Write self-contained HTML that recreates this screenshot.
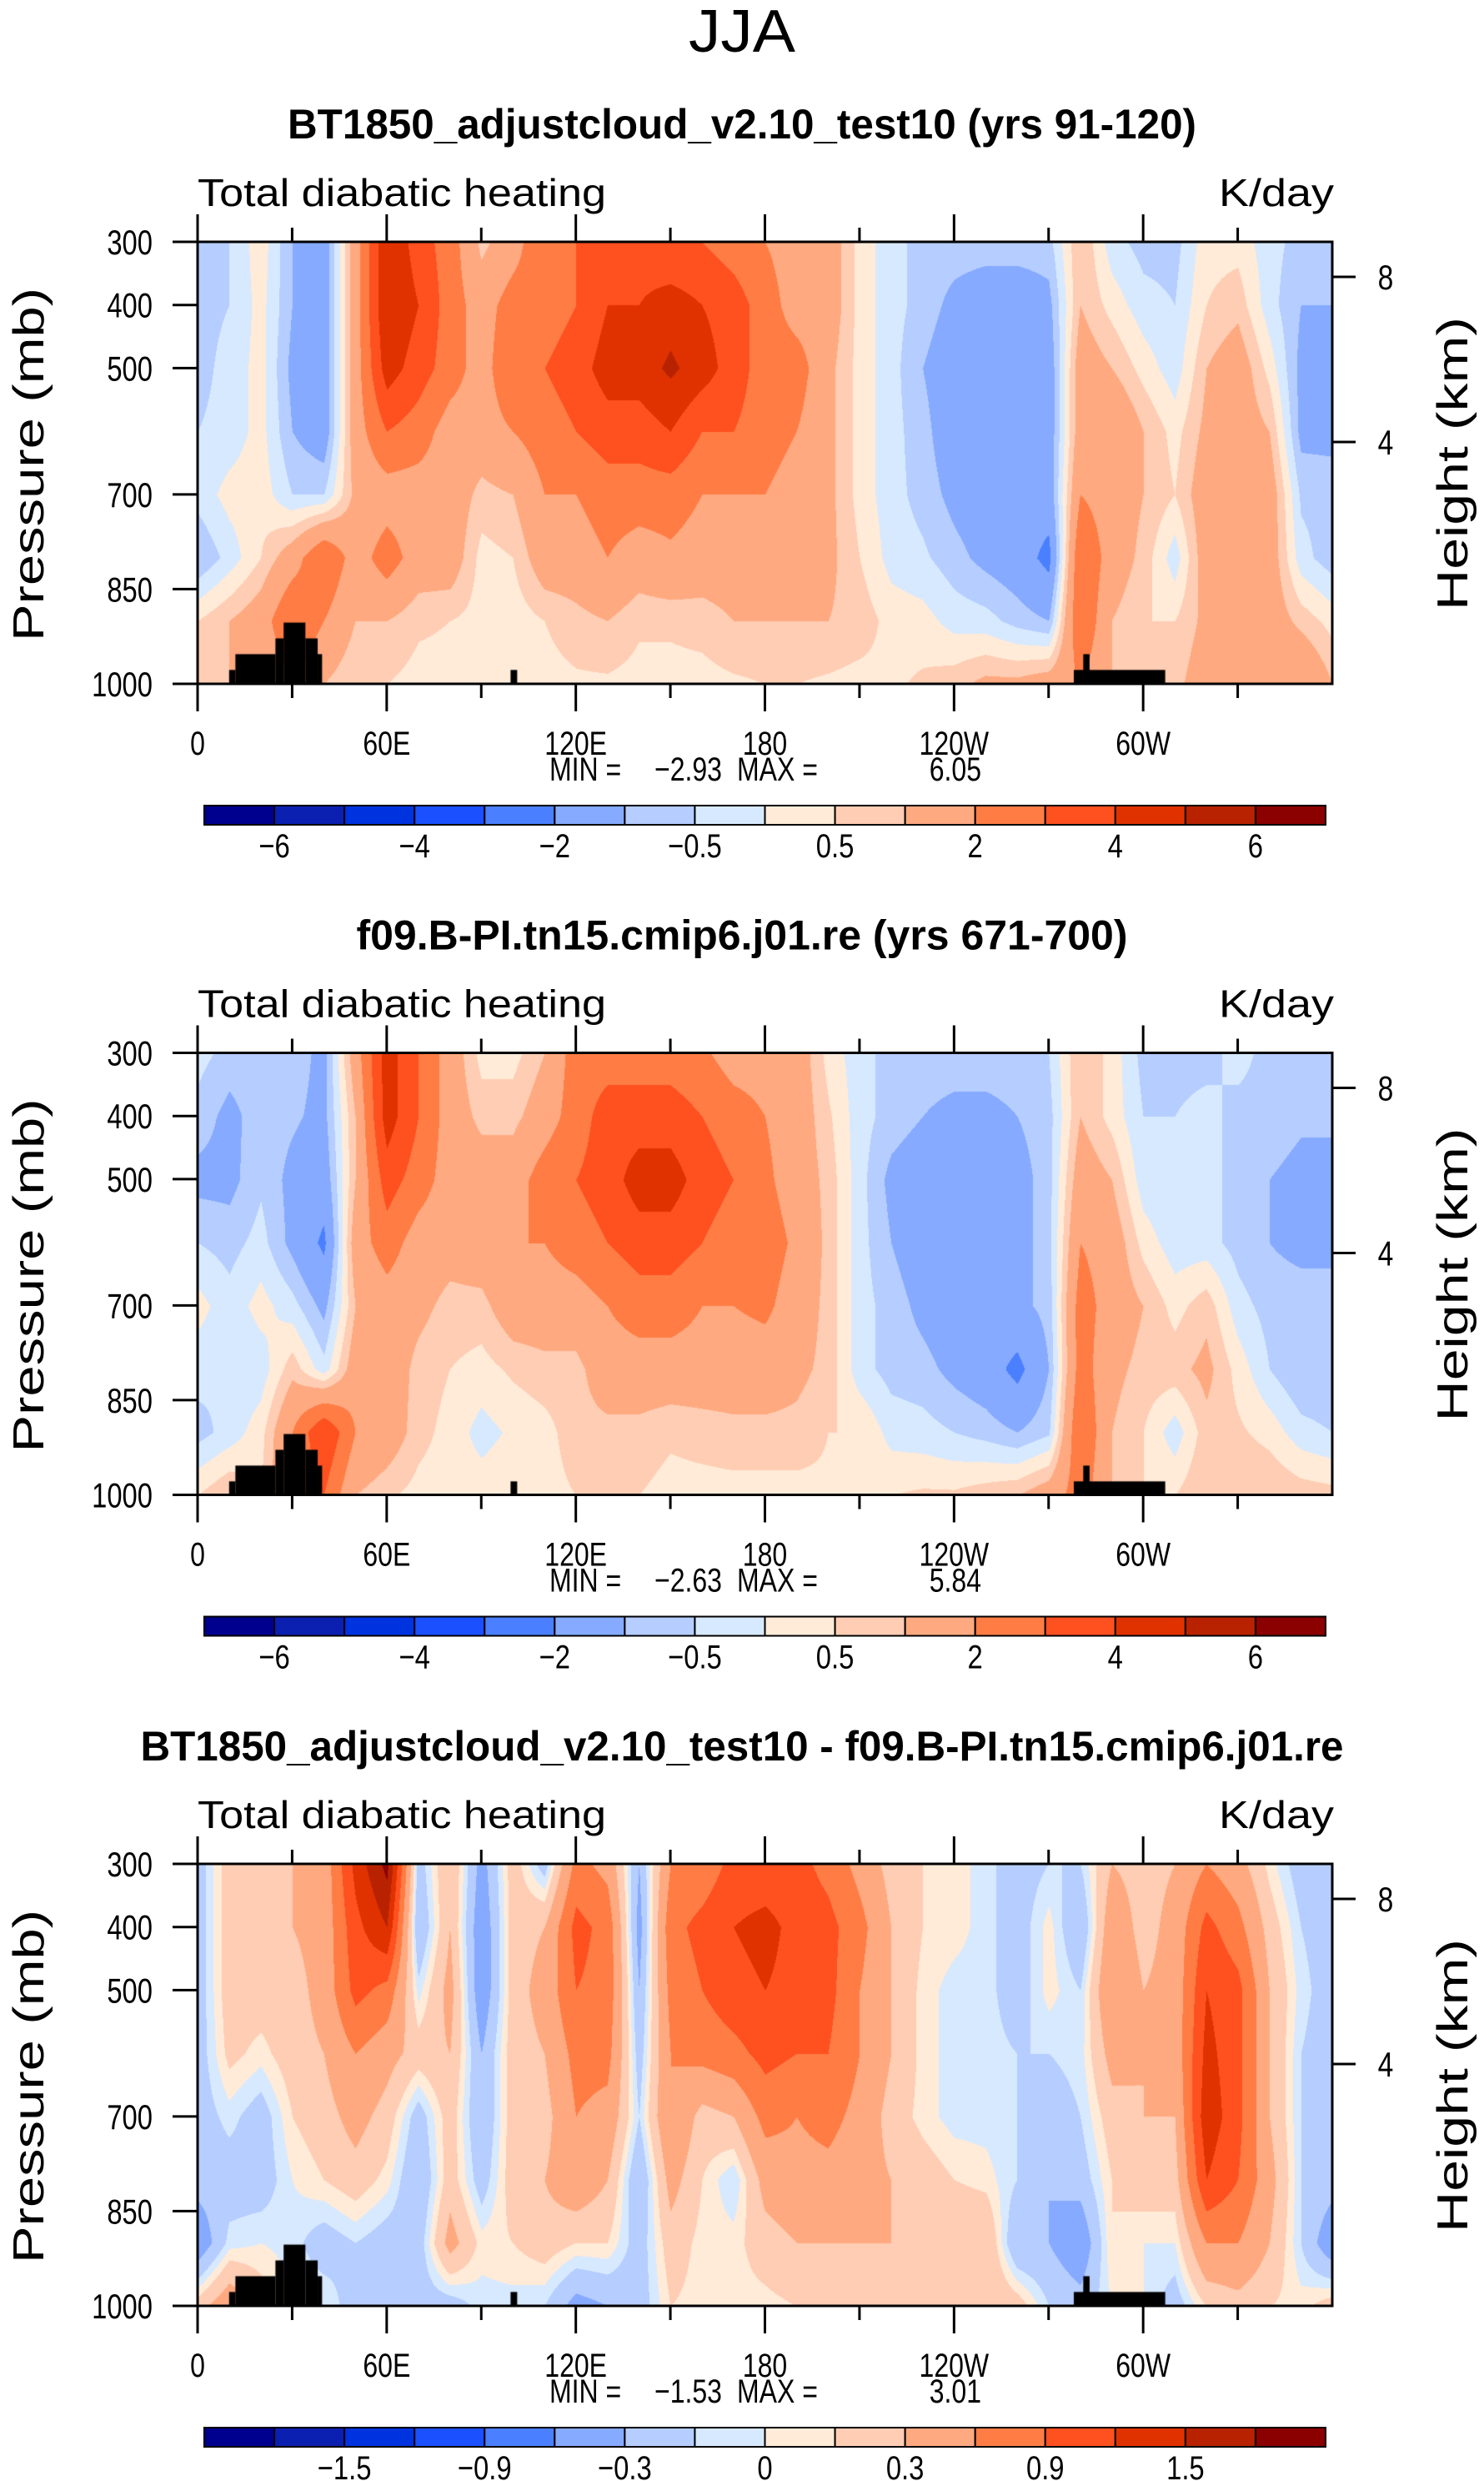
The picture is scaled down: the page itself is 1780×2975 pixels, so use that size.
<!DOCTYPE html>
<html><head><meta charset="utf-8">
<style>
html,body{margin:0;padding:0;background:#fff;}
#wrap{position:relative;width:1780px;height:2975px;overflow:hidden;background:#fff;}
canvas{position:absolute;}
svg{position:absolute;left:0;top:0;}
text{font-family:"Liberation Sans",sans-serif;fill:#000;}
</style></head>
<body>
<div id="wrap">
<canvas id="c0" width="1361" height="530" style="left:237px;top:290px"></canvas>
<canvas id="c1" width="1361" height="530" style="left:237px;top:1262.5px"></canvas>
<canvas id="c2" width="1361" height="530" style="left:237px;top:2235px"></canvas>
<svg id="ov" width="1780" height="2975">
<text x="890" y="62" font-size="72" text-anchor="middle" textLength="128" lengthAdjust="spacingAndGlyphs">JJA</text>
</svg>
</div>
<script>
// ---- data ----
const lons=[0,10,20,30,40,50,60,70,80,90,100,110,120,130,140,150,160,170,180,190,200,210,220,230,240,250,260,270,280,290,300,310,320,330,340,350,360];
const pressures=[300,400,500,600,700,800,900,1000];
// columns: lon 0..360 step 10; each row-of-8 = pressure 300..1000
const heat1Cols=[
[-0.7,-0.7,-0.7,-0.5,-0.3,-1,0.5,0.8],
[-0.5,-0.5,-0.3,-0.3,0.2,-0.3,1,1],
[0.3,0.2,0.2,0.2,0.3,0.5,1.5,1],
[-1,-1,-1.2,-1,-0.5,1.5,3,2],
[-1.5,-1.5,-1.5,-1.5,-0.5,3,2,1],
[1.5,1.5,1.5,1.5,1.2,1.5,1,0.5],
[5,5,4.5,3,1.5,2.5,1,0.5],
[3.5,4,3.5,2.5,1.5,1.5,0.6,0.3],
[2.5,2.5,2.5,1.5,1.5,1.5,0.5,0.3],
[0.8,1.5,1.5,1.5,0.8,0.3,0.3,0.2],
[1.5,2.5,3,2,1,0.5,0.2,0.3],
[3,2.5,3,2.5,2,1.5,0.5,0.3],
[3,3,3.5,3,2,1.5,0.8,0.4],
[3.5,4,4.5,3.5,2.5,2,1,0.4],
[3.5,4,4.5,3.5,2.5,1.5,0.6,0.3],
[3,4.5,5.2,4,2.5,1.8,0.6,0.3],
[3,4,4.5,3,2,1.5,0.7,0.3],
[2.5,3.5,3.5,3,2,1.5,1,0.4],
[2,2.5,2.5,2.5,2,1.5,1,0.5],
[1.5,1.5,2.5,2,1.5,1.5,1,0.5],
[1.5,1.5,1.2,1.2,1.2,1.2,1,0.4],
[0.3,0.3,0.3,0.3,0.3,0.5,0.8,0.3],
[-0.3,-0.3,-0.3,-0.3,-0.3,-0.2,0.3,0.4],
[-0.7,-0.7,-1,-0.8,-0.7,-0.4,0.2,0.6],
[-0.7,-1.2,-1.5,-1.5,-1.2,-0.8,-0.2,0.8],
[-0.7,-1.5,-1.5,-1.5,-1.5,-1.2,-0.3,1.2],
[-0.7,-1.5,-1.5,-1.5,-1.5,-1.5,-0.7,1.2],
[-0.7,-1.2,-1.5,-1.5,-1.5,-2.3,-1,1.5],
[1,1,1.5,1.5,2,3,3,2],
[-0.3,0.3,1,2,1.5,1.5,1,1],
[-0.7,-0.3,0.3,1,1,0.8,0.5,0.5],
[-0.7,-0.5,-0.3,0.3,0.5,-0.3,0.5,0.8],
[0.3,0.5,1,1.2,1.5,1.5,1.2,1.5],
[0.3,0.8,1.5,1.5,1.5,1.5,1.5,1.5],
[-0.3,-0.3,0.3,1,1.5,1.5,1.5,2],
[-0.7,-1,-1.2,-1.2,-0.6,-0.3,0.8,2],
[-0.8,-1,-1.2,-1.2,-0.7,-0.8,0.3,1]
];
const heat2Cols=[
[-0.3,-0.7,-1.2,-0.5,0.2,-0.3,-0.7,0.5],
[-0.7,-1.2,-1.2,-0.7,-0.3,-0.5,-0.3,1],
[-0.7,-0.7,-0.6,-0.3,0.2,-0.3,0.3,0.5],
[-0.7,-0.9,-1.2,-1.2,-0.3,0.8,2,2],
[-1.2,-1.2,-1.5,-2.2,-1.2,-0.3,4,3],
[1.5,1,1,1.5,1,1.5,2,1],
[4.5,4.5,3.5,2.5,1.5,1.5,1.5,0.6],
[3,3,2.5,1.5,1.2,0.8,0.7,0.3],
[1.5,1.5,1.5,1.3,0.8,0.5,0.3,0.2],
[0.3,0.8,1.5,1.5,0.8,0.3,-0.2,0.3],
[0.3,0.8,1.5,2,1.5,0.6,0.1,0.4],
[1,1.5,2.5,2,1.5,0.8,0.3,0.3],
[2.5,2.5,3,2.5,1.5,0.8,0.8,0.5],
[2.5,3.5,3.5,3,2,1.5,0.8,0.5],
[2.5,3.5,4.5,3.5,2.5,1.5,0.8,0.5],
[2.5,3.5,4.5,3.5,2.5,1.5,0.6,0.3],
[2.2,3,3.5,3,2,1.5,0.7,0.3],
[1.5,2.5,3,2.5,2,1.5,0.8,0.3],
[1.5,2,2.2,2.5,2.2,1.5,0.8,0.3],
[1.5,1.5,1.5,1.8,1.5,1.2,0.8,0.3],
[0.3,0.6,0.8,0.8,0.8,0.8,0.5,0.4],
[-0.3,-0.3,-0.3,-0.3,-0.3,-0.3,0.5,0.5],
[-0.7,-0.7,-1.2,-1,-0.7,-0.7,-0.2,0.5],
[-0.7,-1,-1.5,-1.5,-1.2,-0.8,-0.3,0.6],
[-0.7,-1.2,-1.5,-1.5,-1.5,-1.2,-0.5,0.6],
[-0.7,-1.2,-1.5,-1.5,-1.5,-1.5,-0.7,0.8],
[-0.7,-1,-1.3,-1.3,-1.2,-2.3,-1,1],
[-0.5,-0.7,-0.7,-0.7,-0.8,-1,-0.6,1.5],
[1,1,1.5,2,2.5,2.5,3,2.5],
[0.3,0.3,1,1.5,1.5,1.2,1,1],
[-0.7,-0.5,-0.3,0.3,1,0.8,0.5,0.5],
[-0.7,-0.5,-0.5,-0.3,0.3,0.8,-0.3,0.5],
[-0.7,-0.3,-0.3,-0.3,0.8,1.2,0.8,1],
[-0.3,-0.7,-0.7,-0.7,-0.3,0.3,0.6,1],
[-0.7,-0.7,-1,-1,-0.7,-0.5,0.3,1],
[-0.7,-0.9,-1.2,-1.2,-0.7,-1,-0.3,0.8],
[-0.7,-0.9,-1.2,-1.2,-0.7,-1,-0.5,0.7]
];
const diffCols=[
[-0.2,-0.2,-0.2,-0.2,-0.2,-0.2,-0.5,0.2],
[0.2,0.2,0.2,0.15,-0.05,-0.2,-0.05,0.5],
[0.2,0.2,0.2,0.05,-0.2,-0.2,0,0.2],
[0.3,0.3,0.2,0.2,0.1,0,-0.05,0],
[0.4,0.4,0.4,0.3,0.2,0.1,-0.2,0],
[1.3,1.1,1,0.6,0.4,0.2,-0.1,-0.2],
[1.9,1.5,0.8,0.4,0.2,0.05,-0.2,-0.2],
[-0.2,-0.3,-0.05,0.2,-0.2,-0.3,-0.2,-0.2],
[0.3,0.3,0.4,0.3,0.2,0.2,0.4,-0.2],
[-0.4,-0.5,-0.5,-0.3,-0.3,-0.2,0.05,-0.05],
[0.2,0.2,0.2,0.2,0.2,0.2,0.1,-0.05],
[-0.2,0.3,0.4,0.3,0.2,0.3,0.2,-0.1],
[0.7,1,0.9,0.7,0.6,0.5,0.1,-0.4],
[0.5,0.8,0.8,0.7,0.5,0.3,0.1,-0.3],
[-0.3,-0.4,-0.3,-0.2,-0.1,-0.3,-0.2,-0.2],
[0.6,0.8,0.7,0.6,0.6,0.4,0.2,0.1],
[0.7,1,0.9,0.7,0.2,0.1,0.05,0.05],
[1,1.2,1.1,0.8,0.3,-0.1,0.05,0.05],
[1,1.3,1.2,1,0.7,0.4,0.2,0.05],
[1,1.1,1.1,0.9,0.6,0.5,0.3,0.1],
[0.8,1,1,0.9,0.7,0.5,0.3,0.2],
[0.5,0.7,0.6,0.6,0.5,0.4,0.3,0.2],
[0.2,0.3,0.3,0.3,0.2,0.3,0.3,0.2],
[0.1,0.1,0.05,0.05,0.05,0.2,0.3,0.2],
[0.05,0.05,-0.05,-0.05,-0.05,0.1,0.3,0.2],
[-0.05,-0.05,-0.05,-0.05,-0.05,0.05,0.3,0.3],
[-0.2,-0.2,-0.2,-0.1,-0.1,-0.1,-0.3,0.2],
[-0.1,0.05,0.05,-0.1,-0.2,-0.3,-0.3,-0.1],
[-0.1,-0.3,-0.1,-0.05,-0.1,-0.2,-0.5,-0.2],
[0.3,0.5,0.6,0.4,0.2,0.1,0.1,0],
[0.2,0.2,0.3,0.3,0.3,0.2,0,0],
[0.3,0.4,0.4,0.4,0.3,0.2,0,-0.2],
[0.6,1,1.2,1.3,1.4,1.2,0.6,0.1],
[0.4,0.7,1,1,1,0.9,0.6,0.2],
[0.05,0.2,0.3,0.3,0.3,0.4,0.3,0.1],
[-0.2,-0.1,-0.05,-0.1,-0.1,-0.1,-0.1,0.05],
[-0.2,-0.2,-0.2,-0.2,-0.2,-0.2,-0.5,0.2]
];
const levelsAbs=[-6,-5,-4,-3,-2,-1,-0.5,0,0.5,1,2,3,4,5,6];
const levelsDiff=[-1.8,-1.5,-1.2,-0.9,-0.6,-0.3,-0.1,0,0.1,0.3,0.6,0.9,1.2,1.5,1.8];
const labelsAbs=["−6","−4","−2","−0.5","0.5","2","4","6"];
const labelsDiff=["−1.5","−0.9","−0.3","0","0.3","0.9","1.5"];
const palette=["#00008e","#0b20b0","#0033e0","#1a50ff","#4a7fff","#85aaff","#b5cdff","#d7e9ff","#ffebd8","#ffcdb3","#ffa981","#ff7d45","#ff5020","#e03200","#b82200","#8b0000"];
const lonTickLabels=["0","60E","120E","180","120W","60W"];
const pTickLabels=["300","400","500","700","850","1000"];
const topoBars=[[10,12,978],[12,24.7,953],[24.7,27.3,928],[27.3,34.2,903],[34.2,38.1,928],[38.1,39.5,953],[99.3,101.4,978],[278,307,978],[281,283,953]];
const titles=["BT1850_adjustcloud_v2.10_test10 (yrs 91-120)","f09.B-PI.tn15.cmip6.j01.re (yrs 671-700)","BT1850_adjustcloud_v2.10_test10 - f09.B-PI.tn15.cmip6.j01.re"];
const mins=["−2.93","−2.63","−1.53"];
const maxs=["6.05","5.84","3.01"];

// ---- geometry ----
const W=1361,H=530,X0=237,Y0=290,DY=972.5;
function xOfLon(l){return l/360*W;}
function yOfP(p){return (p-300)/700*H;}
function hexToRgb(h){return [parseInt(h.substr(1,2),16),parseInt(h.substr(3,2),16),parseInt(h.substr(5,2),16)];}
const rgb=palette.map(hexToRgb);
function sample(cols,lon,p){
  let fi=lon/10, fj=(p-300)/100;
  let i=Math.min(Math.floor(fi),lons.length-2), j=Math.min(Math.floor(fj),pressures.length-2);
  let a=fi-i,b=fj-j;
  let v00=cols[i][j],v10=cols[i+1][j],v01=cols[i][j+1],v11=cols[i+1][j+1];
  return (v00*(1-a)+v10*a)*(1-b)+(v01*(1-a)+v11*a)*b;
}
function drawPanel(cv,cols,levels){
  const ctx=cv.getContext('2d');
  const img=ctx.createImageData(W,H);
  for(let y=0;y<H;y++){
    const p=300+y/H*700;
    for(let x=0;x<W;x++){
      const v=sample(cols,x/W*360,p);
      let k=0; while(k<levels.length&&v>=levels[k])k++;
      const c=rgb[k],o=(y*W+x)*4;
      img.data[o]=c[0];img.data[o+1]=c[1];img.data[o+2]=c[2];img.data[o+3]=255;
    }
  }
  ctx.putImageData(img,0,0);
  ctx.fillStyle="#000";
  topoBars.forEach(t=>{
    const x1=xOfLon(t[0]),x2=xOfLon(t[1]),y1=yOfP(t[2]);
    ctx.fillRect(x1,y1,x2-x1,H-y1);
  });
}
drawPanel(document.getElementById('c0'),heat1Cols,levelsAbs);
drawPanel(document.getElementById('c1'),heat2Cols,levelsAbs);
drawPanel(document.getElementById('c2'),diffCols,levelsDiff);

// ---- svg overlay ----
const NS="http://www.w3.org/2000/svg";
const svg=document.getElementById('ov');
function mk(tag,attrs,txt){const e=document.createElementNS(NS,tag);for(const k in attrs)e.setAttribute(k,attrs[k]);if(txt!==undefined)e.textContent=txt;svg.appendChild(e);return e;}
function sx(x){return `translate(${x},0) scale(0.8,1) translate(${-x},0)`;}
const titleLens=[1090,925,1443];
for(let k=0;k<3;k++){
  const dy=k*DY, top=Y0+dy, bot=top+H;
  let e;
  e=mk('text',{x:890,y:166+dy,'font-size':50,'font-weight':'bold','text-anchor':'middle',textLength:titleLens[k],lengthAdjust:'spacingAndGlyphs'},titles[k]);
  
  
  e=mk('text',{x:237,y:247+dy,'font-size':46,textLength:490,lengthAdjust:'spacingAndGlyphs'},"Total diabatic heating");
  
  
  e=mk('text',{x:1600,y:247+dy,'font-size':46,'text-anchor':'end',textLength:138,lengthAdjust:'spacingAndGlyphs'},"K/day");
  
  
  e=mk('rect',{x:X0,y:top,width:W,height:H,fill:'none',stroke:'#000','stroke-width':3});
  
  
  for(let l=0;l<=330;l+=30){
    const x=X0+xOfLon(l), major=(l%60===0);
    e=mk('line',{x1:x,y1:top,x2:x,y2:top-(major?33:17),stroke:'#000','stroke-width':3});
    
    
    e=mk('line',{x1:x,y1:bot,x2:x,y2:bot+(major?33:17),stroke:'#000','stroke-width':3});
    
    
  }
  lonTickLabels.forEach((lab,i)=>{
    const x=X0+xOfLon(i*60);
    const t=mk('text',{x:x,y:905+dy,'font-size':40,'text-anchor':'middle',transform:sx(x)},lab);
    
    
  });
  pTickLabels.forEach(lab=>{
    const y=top+yOfP(+lab);
    const tk=mk('line',{x1:X0-30,y1:y,x2:X0,y2:y,stroke:'#000','stroke-width':3});
    
    
    const t=mk('text',{x:183,y:y+15,'font-size':42,'text-anchor':'end',transform:`translate(183,0) scale(0.78,1) translate(-183,0)`},lab);
    
    
  });
  [[8,332],[4,530]].forEach(h=>{
    const y=h[1]+dy;
    const tk=mk('line',{x1:X0+W,y1:y,x2:X0+W+28,y2:y,stroke:'#000','stroke-width':3});
    
    
    const t=mk('text',{x:1662,y:y+15,'font-size':42,'text-anchor':'middle',transform:sx(1662)},String(h[0]));
    
    
  });
  e=mk('text',{x:0,y:0,'font-size':52,'text-anchor':'middle',textLength:424,lengthAdjust:'spacingAndGlyphs',transform:`translate(52,${557+dy}) rotate(-90)`},"Pressure  (mb)");
  
  
  e=mk('text',{x:0,y:0,'font-size':52,'text-anchor':'middle',textLength:352,lengthAdjust:'spacingAndGlyphs',transform:`translate(1760,${556+dy}) rotate(-90)`},"Height  (km)");
  
  
  // min/max
  e=mk('text',{x:659,y:936+dy,'font-size':40,transform:sx(659)},"MIN =");
  
  
  e=mk('text',{x:866,y:936+dy,'font-size':40,'text-anchor':'end',transform:sx(866)},mins[k]);
  
  
  e=mk('text',{x:884,y:936+dy,'font-size':40,transform:sx(884)},"MAX =");
  
  
  e=mk('text',{x:1177,y:936+dy,'font-size':40,'text-anchor':'end',transform:sx(1177)},maxs[k]);
  
  
  // colorbar
  const cbx=245,cbw=(1590-245)/16,cby=966+dy,cbh=23;
  palette.forEach((c,i)=>{
    const r=mk('rect',{x:cbx+i*cbw,y:cby,width:cbw,height:cbh,fill:c,stroke:'#000','stroke-width':2});
    
    
  });
  const labs=(k<2)?labelsAbs:labelsDiff;
  labs.forEach((lab,i)=>{
    const b=(k<2)?(1+2*i):(2+2*i);
    const x=cbx+b*cbw;
    const t=mk('text',{x:x,y:1028+dy,'font-size':40,'text-anchor':'middle',transform:`translate(${x},0) scale(0.82,1) translate(${-x},0)`},lab);
    
    
  });
}
</script>
</body></html>
